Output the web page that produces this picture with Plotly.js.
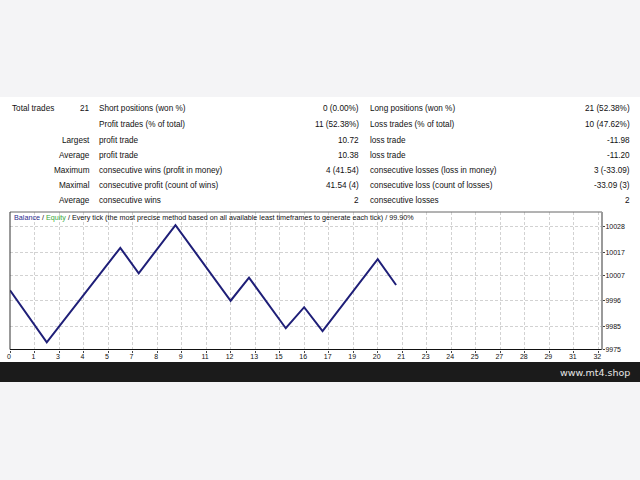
<!DOCTYPE html>
<html>
<head>
<meta charset="utf-8">
<script src="https://cdn.plot.ly/plotly-3.0.1.min.js"></script>
<style>html,body{margin:0;padding:0;background:#f4f4f6;}#chart{width:640px;height:480px;}</style>
</head>
<body>
<div id="chart"></div>
<script>
// ---- Data ----
var tradeNo = [0, 2, 6, 7, 9, 12, 13, 15, 16, 17, 20, 21];
var balance = [10000.5, 9978.0, 10018.9, 10007.9, 10028.7, 9996.0, 10006.0, 9984.1, 9993.2, 9982.9, 10014.0, 10002.8];

var xTickText = ['0','1','3','4','5','7','8','9','11','12','13','15','16','17','19','20','21','23','24','25','27','28','29','31','32'];
var yTickText = ['9975','9985','9996','10007','10017','10028'];

var rowFirst = ['Total trades','','','','','',''];
var colA = ['21','','Largest','Average','Maximum','Maximal','Average'];
var colB = ['Short positions (won %)','Profit trades (% of total)','profit trade','profit trade','consecutive wins (profit in money)','consecutive profit (count of wins)','consecutive wins'];
var colC = ['0 (0.00%)','11 (52.38%)','10.72','10.38','4 (41.54)','41.54 (4)','2'];
var colD = ['Long positions (won %)','Loss trades (% of total)','loss trade','loss trade','consecutive losses (loss in money)','consecutive loss (count of losses)','consecutive losses'];
var colE = ['21 (52.38%)','10 (47.62%)','-11.98','-11.20','3 (-33.09)','-33.09 (3)','2'];

var chartTitle = '<span style="color:#2a2a8c">Balance</span> / <span style="color:#3aa83a">Equity</span> / Every tick (the most precise method based on all available least timeframes to generate each tick) / 99.90%';
var watermark = 'www.mt4.shop';

// ---- Layout helpers ----
var W = 640, H = 480;
function px(x){ return x / W; }
function py(y){ return 1 - y / H; }

var xTickVals = xTickText.map(function(t, i){ return i * 4 / 3; });
var yTickVals = yTickText.map(Number);

var FONT = 'Liberation Sans, Arial, sans-serif';
var tableFont = {family: FONT, size: 8.2, color: '#111111'};
var rowY = [109, 124.5, 140, 155.5, 170.5, 185.5, 201];

var annotations = [];
function addText(txt, x, y, anchor, font){
  if (!txt) return;
  annotations.push({text: txt, x: px(x), y: py(y), xref: 'paper', yref: 'paper',
    xanchor: anchor, yanchor: 'middle', showarrow: false, font: font});
}
rowY.forEach(function(y, i){
  addText(rowFirst[i], 10, y, 'left', tableFont);
  addText(colA[i], 92, y, 'right', tableFont);
  addText(colB[i], 97, y, 'left', tableFont);
  addText(colC[i], 361, y, 'right', tableFont);
  addText(colD[i], 368, y, 'left', tableFont);
  addText(colE[i], 632, y, 'right', tableFont);
});
addText(chartTitle, 12, 218, 'left', {family: FONT, size: 7.2, color: '#111111'});
addText(watermark, 632, 372, 'right', {family: 'DejaVu Sans, sans-serif', size: 9.5, color: '#e6e6e6'});

var plotL = 10, plotR = 602, plotT = 212, plotB = 349.5;

var shapes = [
  {type:'rect', xref:'paper', yref:'paper', x0:0, x1:1, y0:py(362), y1:py(97), fillcolor:'#ffffff', line:{width:0}, layer:'below'},
  {type:'rect', xref:'paper', yref:'paper', x0:0, x1:1, y0:py(382), y1:py(362), fillcolor:'#1b1b1b', line:{width:0}, layer:'below'},
  {type:'line', xref:'paper', yref:'paper', x0:px(plotL), x1:px(plotR), y0:py(plotT), y1:py(plotT), line:{color:'#666666', width:1}, layer:'above'},
  {type:'line', xref:'paper', yref:'paper', x0:px(plotL), x1:px(plotL), y0:py(plotT), y1:py(plotB), line:{color:'#333333', width:1}, layer:'above'},
  {type:'line', xref:'paper', yref:'paper', x0:px(plotL), x1:px(plotR), y0:py(plotB), y1:py(plotB), line:{color:'#111111', width:1}, layer:'above'},
  {type:'line', xref:'paper', yref:'paper', x0:px(plotR), x1:px(plotR), y0:py(plotT), y1:py(plotB), line:{color:'#9a9a9a', width:2}, layer:'above'}
];

var trace = {
  x: tradeNo, y: balance, type: 'scatter', mode: 'lines',
  line: {color: '#1f1f78', width: 2}, hoverinfo: 'skip', showlegend: false
};

var layout = {
  width: W, height: H,
  margin: {l:0, r:0, t:0, b:0, pad:0},
  paper_bgcolor: '#f4f4f6', plot_bgcolor: '#ffffff',
  showlegend: false,
  xaxis: {
    domain: [px(plotL), px(plotR)], range: [0, 32.2],
    tickmode: 'array', tickvals: xTickVals, ticktext: xTickText,
    showgrid: true, gridcolor: '#d2d2d2', griddash: '3px,2px', gridwidth: 1,
    zeroline: false, showline: false,
    ticks: 'outside', ticklen: 2, tickcolor: '#444', tickwidth: 1,
    tickfont: {family: FONT, size: 7, color: '#111111'},
    ticklabelshift: -1, ticklabelstandoff: -2,
    fixedrange: true
  },
  yaxis: {
    domain: [py(plotB), py(plotT)], range: [9974.9, 10034.4], side: 'right',
    tickmode: 'array', tickvals: yTickVals, ticktext: yTickText,
    showgrid: true, gridcolor: '#d2d2d2', griddash: '3px,2px', gridwidth: 1,
    zeroline: false, showline: false,
    ticks: 'outside', ticklen: 2, tickcolor: '#444', tickwidth: 1,
    tickfont: {family: FONT, size: 7, color: '#111111'},
    ticklabelstandoff: -1,
    fixedrange: true
  },
  annotations: annotations,
  shapes: shapes
};

Plotly.newPlot('chart', [trace], layout, {displayModeBar: false, staticPlot: true});
</script>
</body>
</html>
